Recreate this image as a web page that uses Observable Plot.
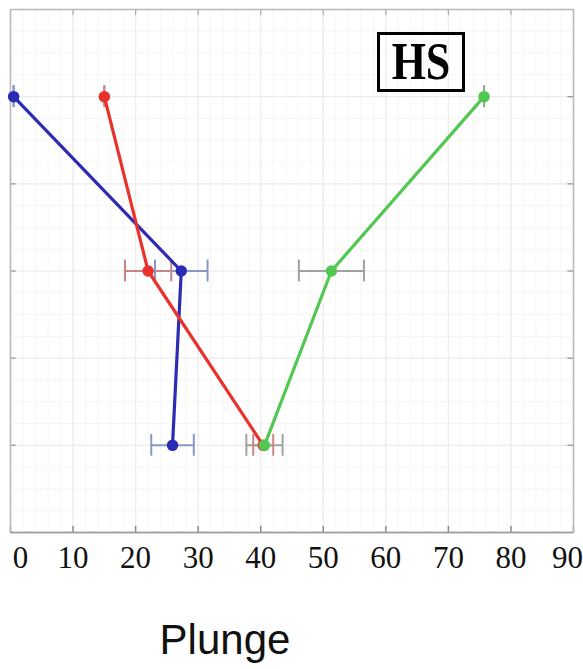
<!DOCTYPE html>
<html>
<head>
<meta charset="utf-8">
<script src="https://cdn.jsdelivr.net/npm/d3@7"></script>
<script src="https://cdn.jsdelivr.net/npm/@observablehq/plot@0.6"></script>
<style>
  html, body { margin: 0; padding: 0; background: #fff; }
  #wrap { position: relative; width: 583px; height: 669px; overflow: hidden; }
  #hs { position: absolute; left: 377px; top: 32px; width: 82px; height: 54px;
        border: 3px solid #000; display: flex; align-items: center; justify-content: center;
        font-family: "Liberation Serif", serif; font-weight: bold; font-size: 44px; }
  #hs span { display: inline-block; transform: scaleY(1.2); line-height: 1; }
  #xlabel { position: absolute; left: 0; width: 450px; text-align: center; top: 616px;
            font-family: "Liberation Sans", Arial, sans-serif; font-size: 42px; color: #111; }
</style>
</head>
<body>
<div id="wrap">
  <div id="chart"></div>
  <div id="hs"><span>HS</span></div>
  <div id="xlabel">Plunge</div>
</div>
<script>
// Levels (vertical position of the three measurement levels)
const levels = [5, 3, 1];
// Series values (x = plunge) and horizontal error half-widths
const blueX  = [0.5, 27.3, 25.9];
const blueE  = [0, 4.2, 3.4];
const redX   = [15.0, 22.0, 40.4];
const redE   = [0, 3.7, 1.6];
const greenX = [75.7, 51.3, 40.6];
const greenE = [0, 5.2, 2.9];
// Axis ticks
const xTicks = [0, 10, 20, 30, 40, 50, 60, 70, 80, 90];
const yTicks = [1, 2, 3, 4, 5];

const series = [
  {name: "blue",  xs: blueX,  es: blueE,  color: "#2b2bb5", err: "#8898c4"},
  {name: "red",   xs: redX,   es: redE,   color: "#e8322c", err: "#c98585"},
  {name: "green", xs: greenX, es: greenE, color: "#52c852", err: "#9ea39e"}
];
const rows = series.flatMap(s => s.xs.map((x, i) => ({
  series: s.name, x, y: levels[i], e: s.es[i], color: s.color, err: s.err
})));

const xMinor = d3.range(0, 91, 2);
const yMinor = d3.range(0, 6.01, 0.25);
const capH = 0.125;   // half-height of error-bar caps (y units)
const tLen = 0.07;    // inward tick length (y units)
const tLenX = 0.9;    // inward tick length (x units)

const labelStyle = {anchor: "bottom", tickSize: 0, tickPadding: 13,
  tickFormat: d => String(d), fontSize: 31, fontFamily: "Liberation Serif, serif",
  label: null, fill: "#111"};

const chart = Plot.plot({
  width: 583,
  height: 669,
  marginLeft: 10,
  marginRight: 10,
  marginTop: 9,
  marginBottom: 137,
  x: {domain: [0, 90]},
  y: {domain: [0, 6]},
  style: {background: "transparent"},
  marks: [
    // minor grid
    Plot.ruleX(xMinor, {stroke: "#f6f6f6", strokeWidth: 1}),
    Plot.ruleY(yMinor, {stroke: "#f6f6f6", strokeWidth: 1}),
    // major grid
    Plot.ruleX(xTicks, {stroke: "#ececec", strokeWidth: 1.2}),
    Plot.ruleY(yTicks, {stroke: "#ececec", strokeWidth: 1.2}),
    // inward ticks
    Plot.ruleX(xTicks, {y1: 0, y2: tLen, stroke: "#888", strokeWidth: 1.5}),
    Plot.ruleX(xTicks, {y1: 6, y2: 6 - tLen, stroke: "#aaa", strokeWidth: 1.2}),
    Plot.ruleY(yTicks, {x1: 0, x2: tLenX, stroke: "#999", strokeWidth: 1.3}),
    Plot.ruleY(yTicks, {x1: 90, x2: 90 - tLenX, stroke: "#999", strokeWidth: 1.3}),
    Plot.frame({stroke: "#b8b8b8", strokeWidth: 1.5}),
    Plot.ruleY([0], {stroke: "#9a9a9a", strokeWidth: 1.5}),
    // x tick labels
    Plot.axisX({...labelStyle, ticks: xTicks.slice(1, -1)}),
    Plot.axisX({...labelStyle, ticks: xTicks.slice(0, 1), dx: 10}),
    Plot.axisX({...labelStyle, ticks: xTicks.slice(-1), dx: -6}),
    Plot.axisY({ticks: [], label: null}),
    // error bars
    Plot.link(rows, {x1: d => d.x - d.e, x2: d => d.x + d.e, y1: "y", y2: "y",
      stroke: d => d.err, strokeWidth: 2}),
    Plot.ruleX(rows, {x: d => d.x - d.e, y1: d => d.y - capH, y2: d => d.y + capH,
      stroke: d => d.err, strokeWidth: 2}),
    Plot.ruleX(rows, {x: d => d.x + d.e, y1: d => d.y - capH, y2: d => d.y + capH,
      stroke: d => d.err, strokeWidth: 2}),
    // lines
    ...series.map(s => Plot.line(rows.filter(r => r.series === s.name),
      {x: "x", y: "y", stroke: s.color, strokeWidth: 3.2})),
    // markers
    Plot.dot(rows, {x: "x", y: "y", r: 5, fill: d => d.color, stroke: d => d.color,
      strokeWidth: 1.5})
  ]
});
document.getElementById("chart").appendChild(chart);
</script>
</body>
</html>
